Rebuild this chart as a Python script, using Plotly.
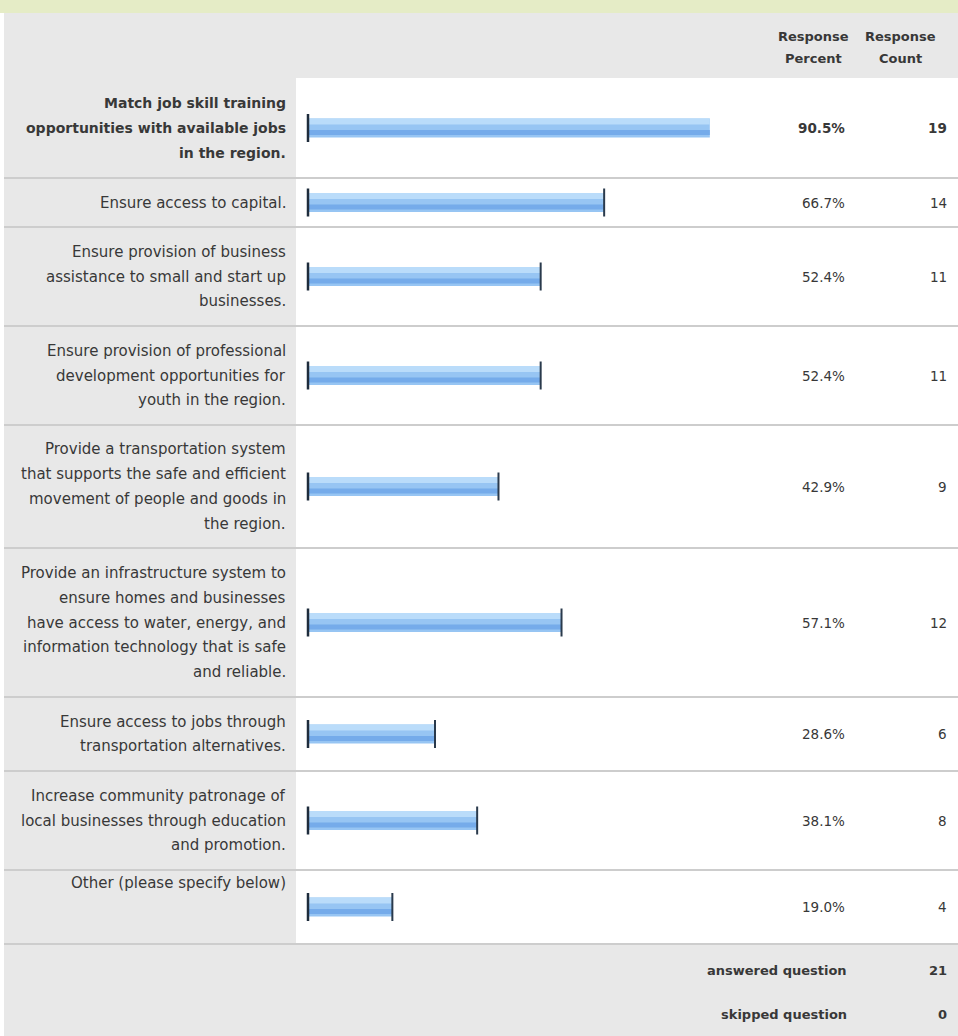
import plotly.graph_objects as go

# ---------------- data ----------------
label_lines = [
    ["Match job skill training", "opportunities with available jobs", "in the region."],
    ["Ensure access to capital."],
    ["Ensure provision of business", "assistance to small and start up", "businesses."],
    ["Ensure provision of professional", "development opportunities for", "youth in the region."],
    ["Provide a transportation system", "that supports the safe and efficient",
     "movement of people and goods in", "the region."],
    ["Provide an infrastructure system to", "ensure homes and businesses",
     "have access to water, energy, and", "information technology that is safe", "and reliable."],
    ["Ensure access to jobs through", "transportation alternatives."],
    ["Increase community patronage of", "local businesses through education", "and promotion."],
    ["Other (please specify below)"],
]
response_percent = [90.5, 66.7, 52.4, 52.4, 42.9, 57.1, 28.6, 38.1, 19.0]
response_count = [19, 14, 11, 11, 9, 12, 6, 8, 4]
header_percent = ["Response", "Percent"]
header_count = ["Response", "Count"]
footer_labels = ["answered question", "skipped question"]
footer_values = [21, 0]

# ---------------- layout constants (pixels) ----------------
W, H = 958, 1036
row_heights = [100, 49, 99, 99, 123, 149, 74, 99, 74]
body_top = 78
line_gap = 24.7
label_right = 288
gray = "#e8e8e8"
sep = "#cdcdcd"
txt = "#383838"
FONT = "DejaVu Sans"

tops, centers = [], []
t = body_top
for h in row_heights:
    tops.append(t)
    centers.append(t + h / 2)
    t += h
body_bottom = t


def px(x):
    return x / W


fig = go.Figure()

# bars (gradient look by overlaying bands)
fig.add_trace(go.Bar(orientation="h", x=response_percent, y=centers, width=19,
                     marker=dict(color="#97c5f3", line=dict(width=0)), hoverinfo="skip"))
fig.add_trace(go.Bar(orientation="h", x=response_percent, y=centers, width=6, offset=-9.5,
                     marker=dict(color="#badcfa", line=dict(width=0)), hoverinfo="skip"))
fig.add_trace(go.Bar(orientation="h", x=response_percent, y=centers, width=5, offset=2,
                     marker=dict(color="#75abea", line=dict(width=0)), hoverinfo="skip"))
# dark edges
fig.add_trace(go.Scatter(x=[0] * len(centers), y=centers, mode="markers", cliponaxis=False,
                         marker=dict(symbol="line-ns", size=20, line=dict(width=2.5, color="#1e2c3c")),
                         hoverinfo="skip"))
fig.add_trace(go.Scatter(x=response_percent[1:], y=centers[1:], mode="markers", cliponaxis=False,
                         marker=dict(symbol="line-ns", size=20, line=dict(width=2, color="#2a3a4c")),
                         hoverinfo="skip"))

shapes = []
# top strip
shapes.append(dict(type="rect", xref="paper", yref="y", x0=0, x1=1, y0=0, y1=13,
                   fillcolor="#e5ecc6", line=dict(width=0), layer="below"))
# header
shapes.append(dict(type="rect", xref="paper", yref="y", x0=px(4), x1=1, y0=13, y1=body_top,
                   fillcolor=gray, line=dict(width=0), layer="below"))
# left label column
shapes.append(dict(type="rect", xref="paper", yref="y", x0=px(4), x1=px(296), y0=body_top, y1=body_bottom,
                   fillcolor=gray, line=dict(width=0), layer="below"))
# footer
shapes.append(dict(type="rect", xref="paper", yref="y", x0=px(4), x1=1, y0=body_bottom, y1=H,
                   fillcolor=gray, line=dict(width=0), layer="below"))
# row separators
for tp in tops[1:] + [body_bottom]:
    shapes.append(dict(type="line", xref="paper", yref="y", x0=px(4), x1=1, y0=tp, y1=tp,
                       line=dict(color=sep, width=2), layer="below"))

ann = []
# header (two lines each)
for lines, cx in ((header_percent, 813), (header_count, 900)):
    for k, ln in enumerate(lines):
        ann.append(dict(x=px(cx), y=36 + k * 22, xref="paper", yref="y", text="<b>%s</b>" % ln,
                        showarrow=False, xanchor="center", yanchor="middle",
                        font=dict(family=FONT, size=13, color=txt)))

for i, lines in enumerate(label_lines):
    n = len(lines)
    if i == len(label_lines) - 1:
        first = tops[i] + 13
    else:
        first = tops[i] + (row_heights[i] - (n - 1) * line_gap) / 2
    for k, ln in enumerate(lines):
        bold = i == 0
        ann.append(dict(x=px(label_right), y=first + k * line_gap, xref="paper", yref="y",
                        text=("<b>%s</b>" % ln) if bold else ln, showarrow=False,
                        xanchor="right", yanchor="middle",
                        font=dict(family=FONT, size=14 if bold else 15, color=txt)))
    ann.append(dict(x=px(847), y=centers[i], xref="paper", yref="y",
                    text=("<b>%.1f%%</b>" if i == 0 else "%.1f%%") % response_percent[i],
                    showarrow=False, xanchor="right", yanchor="middle",
                    font=dict(family=FONT, size=13.5, color=txt)))
    ann.append(dict(x=px(949), y=centers[i], xref="paper", yref="y",
                    text=("<b>%d</b>" if i == 0 else "%d") % response_count[i],
                    showarrow=False, xanchor="right", yanchor="middle",
                    font=dict(family=FONT, size=13.5, color=txt)))

footer_y = [970, 1014]
for lab, val, fy in zip(footer_labels, footer_values, footer_y):
    ann.append(dict(x=px(849), y=fy, xref="paper", yref="y", text="<b>%s</b>" % lab,
                    showarrow=False, xanchor="right", yanchor="middle",
                    font=dict(family=FONT, size=13, color=txt)))
    ann.append(dict(x=px(949), y=fy, xref="paper", yref="y", text="<b>%d</b>" % val,
                    showarrow=False, xanchor="right", yanchor="middle",
                    font=dict(family=FONT, size=13, color=txt)))

fig.update_layout(
    width=W, height=H, margin=dict(l=0, r=0, t=0, b=0),
    paper_bgcolor="white", plot_bgcolor="rgba(0,0,0,0)",
    barmode="overlay", showlegend=False, hovermode=False,
    xaxis=dict(domain=[px(308), px(752)], range=[0, 100], visible=False, fixedrange=True),
    yaxis=dict(domain=[0, 1], range=[H, 0], visible=False, fixedrange=True),
    shapes=shapes, annotations=ann,
)

fig.write_html("out.html", config={"displayModeBar": False})
